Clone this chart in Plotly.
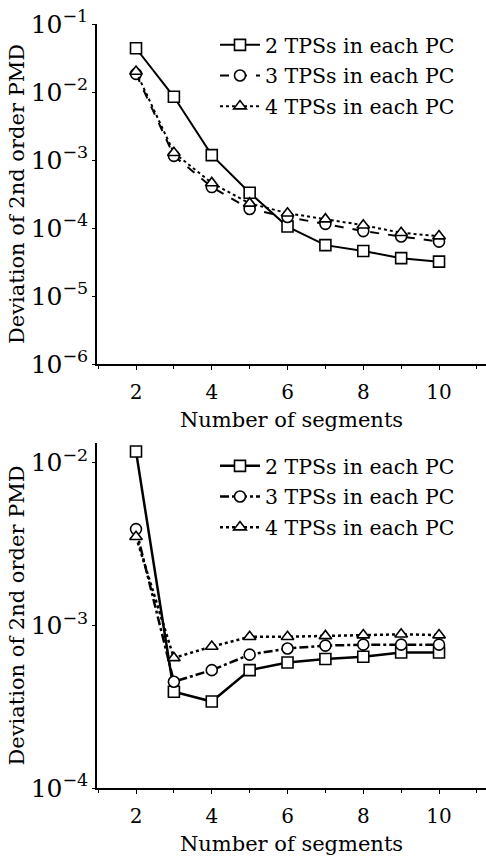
import plotly.graph_objects as go
from plotly.subplots import make_subplots

segments = [2, 3, 4, 5, 6, 7, 8, 9, 10]
series_names = ["2 TPSs in each PC", "3 TPSs in each PC", "4 TPSs in each PC"]

top_2tps = [4.4e-2, 8.5e-3, 1.18e-3, 3.3e-4, 1.05e-4, 5.6e-5, 4.6e-5, 3.6e-5, 3.2e-5]
top_3tps = [1.85e-2, 1.15e-3, 4.0e-4, 1.9e-4, 1.45e-4, 1.15e-4, 9.0e-5, 7.5e-5, 6.3e-5]
top_4tps = [2.0e-2, 1.28e-3, 4.6e-4, 2.3e-4, 1.65e-4, 1.35e-4, 1.1e-4, 8.5e-5, 7.6e-5]

bot_2tps = [1.17e-2, 3.9e-4, 3.4e-4, 5.3e-4, 5.9e-4, 6.2e-4, 6.4e-4, 6.8e-4, 6.8e-4]
bot_3tps = [3.9e-3, 4.5e-4, 5.3e-4, 6.6e-4, 7.2e-4, 7.5e-4, 7.6e-4, 7.6e-4, 7.6e-4]
bot_4tps = [3.5e-3, 6.3e-4, 7.4e-4, 8.5e-4, 8.5e-4, 8.6e-4, 8.7e-4, 8.8e-4, 8.7e-4]

FONT = "DejaVu Serif"

fig = make_subplots(rows=2, cols=1)

styles = [
    dict(symbol="square", dash="solid"),
    dict(symbol="circle", dash="dash"),
    dict(symbol="triangle-up", dash="dot"),
]
styles_bot = [
    dict(symbol="square", dash="solid"),
    dict(symbol="circle", dash="dashdot"),
    dict(symbol="triangle-up", dash="dot"),
]

for i, (name, ys) in enumerate(zip(series_names, [top_2tps, top_3tps, top_4tps])):
    st = styles[i]
    fig.add_trace(go.Scatter(
        x=segments, y=ys, name=name, mode="lines+markers",
        line=dict(color="black", width=2, dash=st["dash"]),
        marker=dict(symbol=st["symbol"], size=11, color="white",
                    line=dict(color="black", width=1.6)),
        legend="legend", legendgroup="t%d" % i,
    ), row=1, col=1)

for i, (name, ys) in enumerate(zip(series_names, [bot_2tps, bot_3tps, bot_4tps])):
    st = styles_bot[i]
    fig.add_trace(go.Scatter(
        x=segments, y=ys, name=name, mode="lines+markers",
        line=dict(color="black", width=2.5, dash=st["dash"]),
        marker=dict(symbol=st["symbol"], size=11, color="white",
                    line=dict(color="black", width=1.6)),
        legend="legend2", legendgroup="b%d" % i,
    ), row=2, col=1)

W, H = 486, 856
xdom = [97 / W, 1.0]
fig.update_layout(
    width=W, height=H,
    margin=dict(l=0, r=0, t=0, b=0),
    paper_bgcolor="white", plot_bgcolor="white",
    font=dict(family=FONT, size=20, color="black"),
    showlegend=True,
    xaxis=dict(domain=xdom, anchor="y"),
    xaxis2=dict(domain=xdom, anchor="y2"),
    yaxis=dict(domain=[1 - 364 / H, 1 - 24 / H], anchor="x"),
    yaxis2=dict(domain=[1 - 788 / H, 1 - 443 / H], anchor="x2"),
    legend=dict(x=215 / W, y=1 - 25 / H, xanchor="left", yanchor="top",
                bgcolor="rgba(0,0,0,0)", font=dict(family=FONT, size=20.5),
                traceorder="grouped", tracegroupgap=1, itemwidth=40),
    legend2=dict(x=215 / W, y=1 - 446 / H, xanchor="left", yanchor="top",
                 bgcolor="rgba(0,0,0,0)", font=dict(family=FONT, size=20.5),
                 traceorder="grouped", tracegroupgap=1, itemwidth=40),
)

xcommon = dict(
    range=[0.97, 11.24], tickvals=[2, 4, 6, 8, 10], showline=True,
    linecolor="black", linewidth=1.5, ticks="outside", ticklen=4,
    tickcolor="black", showgrid=False, zeroline=False, automargin=False,
    ticklabelstandoff=5,
    minor=dict(tickvals=[1, 3, 5, 7, 9, 11], ticks="outside", ticklen=3, tickcolor="black"),
    title=dict(text="Number of segments", font=dict(family=FONT, size=21), standoff=10),
    tickfont=dict(family=FONT, size=20),
)
fig.update_xaxes(**xcommon)

ycommon = dict(
    type="log", showline=True, linecolor="black", linewidth=1.5,
    ticks="outside", ticklen=3, tickcolor="black", showgrid=False,
    zeroline=False, exponentformat="power", dtick=1, automargin=False,
    title=dict(text="Deviation of 2nd order PMD", font=dict(family=FONT, size=21), standoff=0),
    tickfont=dict(family=FONT, size=20),
)
fig.update_yaxes(**ycommon)
fig.update_yaxes(range=[-6, -1], row=1, col=1)
fig.update_yaxes(range=[-4, -1.88], row=2, col=1)

fig.write_html("out.html", config={"displayModeBar": False},
               post_script="document.body.style.margin='0';")
